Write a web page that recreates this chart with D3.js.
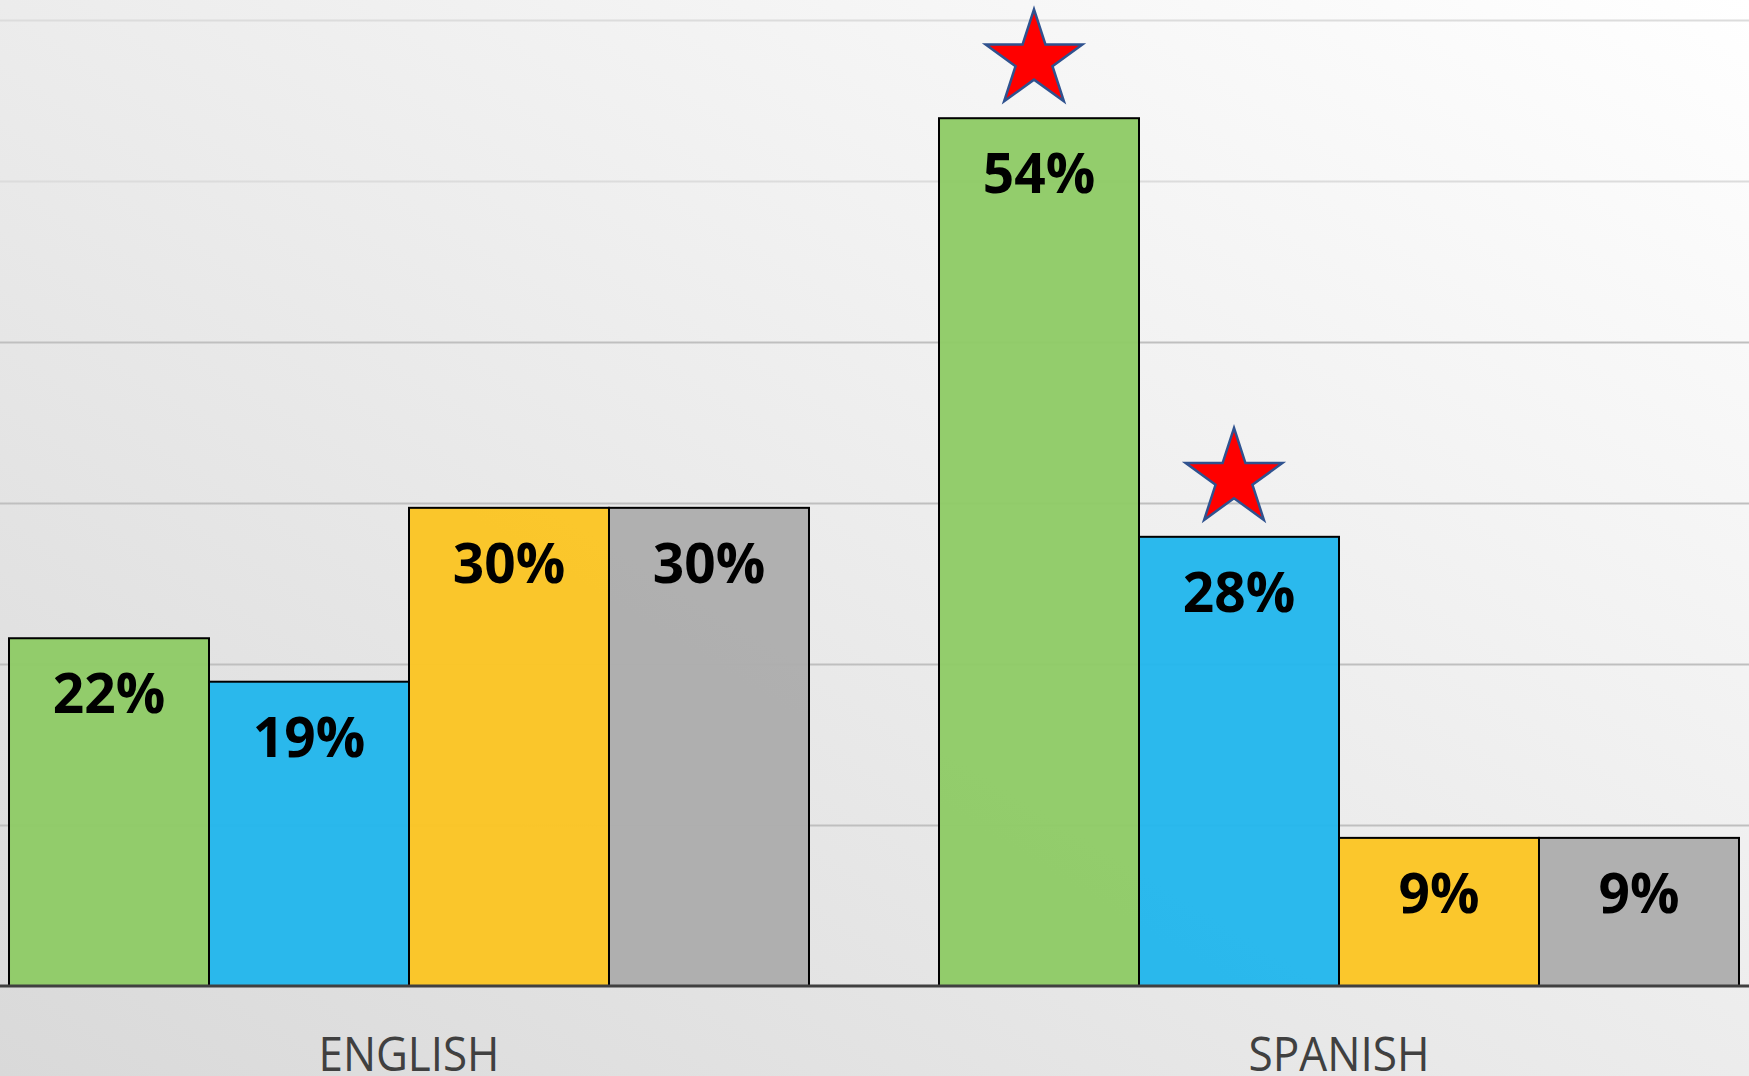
<!DOCTYPE html>
<html>
<head>
<meta charset="utf-8">
<script src="https://cdn.jsdelivr.net/npm/d3@7"></script>
<style>
  html, body { margin: 0; padding: 0; overflow: hidden; }
  body { width: 1749px; height: 1076px; }
</style>
</head>
<body>
<div class="container"></div>
<script>
const w = 1749;
const h = 1076;

// data
const categories = ['ENGLISH', 'SPANISH'];
const seriesNames = ['Series 1', 'Series 2', 'Series 3', 'Series 4'];
const englishValues = [21.6, 18.9, 29.7, 29.7];
const spanishValues = [53.9, 27.9, 9.2, 9.2];
const gridTicks = [10, 20, 30, 40, 50, 60];
const starred = [
  { category: 'SPANISH', series: 'Series 1' },
  { category: 'SPANISH', series: 'Series 2' },
];

const colors = ['#8fcb66', '#22b6ec', '#fbc523', '#adadad'];

let svg = null;
let x0 = null;
let x1 = null;
let y = null;

window.onload = () => {
  setSvg();
  setScales();
  drawGrid();
  drawBars();
  addLabels();
  addStars();
  addAxis();
};

function rows() {
  const out = [];
  categories.forEach((c, i) => {
    const vals = i === 0 ? englishValues : spanishValues;
    vals.forEach((v, j) => out.push({ category: c, series: seriesNames[j], value: v, color: colors[j] }));
  });
  return out;
}

function setSvg() {
  svg = d3.select('.container').append('svg')
    .attr('width', w)
    .attr('height', h);

  const defs = svg.append('defs');
  const grad = defs.append('linearGradient')
    .attr('id', 'bg')
    .attr('x1', '100%').attr('y1', '0%')
    .attr('x2', '0%').attr('y2', '100%');
  grad.append('stop').attr('offset', '0%').attr('stop-color', '#ffffff');
  grad.append('stop').attr('offset', '100%').attr('stop-color', '#d9d9d9');

  svg.append('rect')
    .attr('width', w)
    .attr('height', h)
    .attr('fill', 'url(#bg)');
}

function setScales() {
  // plot area is wider than the picture, so the band range runs past both edges
  x0 = d3.scaleBand()
    .domain(categories)
    .range([-56, 1804])
    .paddingInner(0.1398)
    .paddingOuter(0.0699);

  x1 = d3.scaleBand()
    .domain(seriesNames)
    .range([0, x0.bandwidth()]);

  y = d3.scaleLinear()
    .domain([0, 60])
    .range([986, 20]);
}

function drawGrid() {
  svg.append('g')
    .selectAll('line')
    .data(gridTicks)
    .enter()
    .append('line')
    .attr('x1', 0)
    .attr('x2', w)
    .attr('y1', (d) => y(d) + 0.5)
    .attr('y2', (d) => y(d) + 0.5)
    .attr('stroke', (d) => (d > 40 ? '#dcdcdc' : '#bfbfbf'))
    .attr('stroke-width', 2);
}

function drawBars() {
  svg.append('g')
    .selectAll('rect')
    .data(rows())
    .enter()
    .append('rect')
    .attr('x', (d) => x0(d.category) + x1(d.series))
    .attr('y', (d) => y(d.value))
    .attr('width', x1.bandwidth())
    .attr('height', (d) => y(0) - y(d.value))
    .attr('fill', (d) => d.color)
    .attr('fill-opacity', 0.96)
    .attr('stroke', '#000')
    .attr('stroke-width', 2);
}

function addLabels() {
  svg.append('g')
    .selectAll('text')
    .data(rows())
    .enter()
    .append('text')
    .text((d) => Math.round(d.value) + '%')
    .attr('x', (d) => x0(d.category) + x1(d.series) + x1.bandwidth() / 2)
    .attr('y', (d) => y(d.value) + 75)
    .attr('text-anchor', 'middle')
    .attr('font-family', '"Open Sans", sans-serif')
    .attr('font-weight', 700)
    .attr('font-size', '55px')
    .attr('fill', '#000');
}

function addStars() {
  const star = d3.symbol().type(d3.symbolStar).size(2900);
  const data = rows().filter((d) => starred.some((s) => s.category === d.category && s.series === d.series));

  svg.append('g')
    .selectAll('path')
    .data(data)
    .enter()
    .append('path')
    .attr('d', star)
    .attr('transform', (d) => {
      const cx = x0(d.category) + x1(d.series) + x1.bandwidth() / 2 - 5;
      const cy = y(d.value) - 58;
      return `translate(${cx},${cy})`;
    })
    .attr('fill', '#ff0000')
    .attr('stroke', '#2f528f')
    .attr('stroke-width', 2.5);
}

function addAxis() {
  const axis = svg.append('g')
    .attr('transform', `translate(0,${y(0)})`)
    .call(d3.axisBottom(x0).tickSize(0).tickPadding(0));

  axis.select('.domain')
    .attr('d', `M0,0H${w}`)
    .attr('stroke', '#404040')
    .attr('stroke-width', 3);

  axis.selectAll('text')
    .attr('y', 85)
    .attr('dy', 0)
    .attr('font-family', '"Open Sans", sans-serif')
    .attr('font-size', '47px')
    .attr('fill', '#404040')
    .attr('textLength', 181)
    .attr('lengthAdjust', 'spacingAndGlyphs');
}
</script>
</body>
</html>
